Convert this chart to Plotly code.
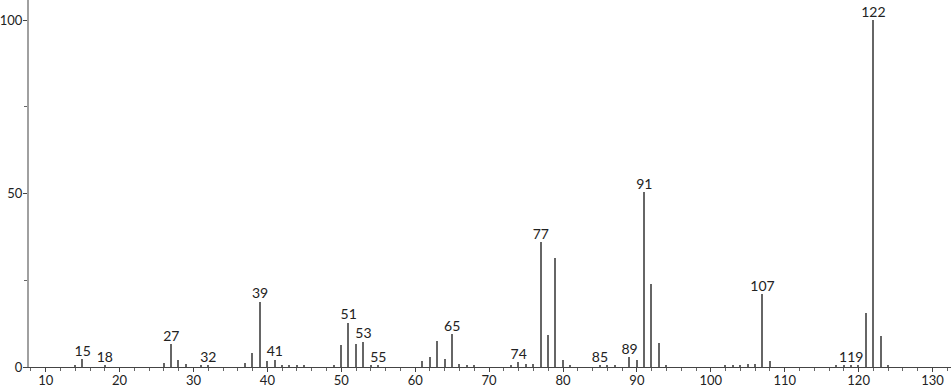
import plotly.graph_objects as go

mz = [14, 15, 18, 26, 27, 28, 29, 31, 32, 37, 38, 39, 40, 41, 42, 43, 44, 45, 49,
      50, 51, 52, 53, 54, 55, 61, 62, 63, 64, 65, 66, 67, 68, 73, 74, 75, 76,
      77, 78, 79, 80, 81, 85, 86, 87, 89, 90, 91, 92, 93, 94, 102, 103, 104,
      105, 106, 107, 108, 117, 118, 119, 120, 121, 122, 123, 124]
intensity = [0.6, 2.3, 0.5, 1.1, 6.5, 2.0, 0.9, 0.3, 0.4, 1.2, 4.0, 18.8, 1.7, 2.1, 0.4, 0.6, 0.3, 0.3, 0.4,
             6.3, 12.8, 6.6, 7.3, 0.5, 0.3, 1.6, 2.9, 7.5, 2.3, 9.5, 1.0, 0.3, 0.3, 0.3, 1.3, 0.8, 0.9,
             35.9, 9.2, 31.5, 2.1, 0.3, 0.4, 0.4, 0.3, 2.8, 2.0, 50.4, 23.8, 6.9, 0.4, 0.3, 0.4, 0.5,
             0.9, 0.9, 21.0, 1.8, 0.3, 0.3, 0.4, 0.3, 15.6, 100.0, 8.8, 0.4]
labeled_mz = [15, 18, 27, 32, 39, 41, 51, 53, 55, 65, 74, 77, 85, 89, 91, 107, 119, 122]

lookup = dict(zip(mz, intensity))
label_y = [lookup[m] for m in labeled_mz]

FONT = "Lato, DejaVu Sans, sans-serif"

fig = go.Figure()
fig.add_trace(go.Bar(x=mz, y=intensity, width=0.2,
                     marker=dict(color="#666666", line=dict(width=0)),
                     hoverinfo="x+y"))
fig.add_trace(go.Scatter(x=labeled_mz, y=label_y, mode="text",
                         text=[str(m) for m in labeled_mz],
                         textposition="top center",
                         textfont=dict(family=FONT, size=14, color="#222222"),
                         hoverinfo="skip"))

fig.update_layout(
    width=951, height=389,
    margin=dict(l=29, r=0, t=0, b=22),
    paper_bgcolor="white", plot_bgcolor="white",
    showlegend=False,
    font=dict(family=FONT, size=14, color="#222222"),
    bargap=0,
)
fig.update_xaxes(range=[7.74, 132.5], showgrid=False, zeroline=False, automargin=False,
                 showline=True, linecolor="#444444", linewidth=1,
                 tickmode="linear", tick0=10, dtick=10,
                 ticks="outside", ticklen=4, tickcolor="#444444",
                 ticklabelstandoff=-3,
                 minor=dict(ticks="outside", dtick=2, tick0=10, ticklen=3, tickcolor="#666666"),
                 tickfont=dict(size=13, color="#222222"))
fig.update_yaxes(range=[0, 105.8], showgrid=False, zeroline=False, automargin=False,
                 showline=True, linecolor="#a0a0a0", linewidth=2,
                 tickvals=[0, 50, 100], ticks="outside", ticklen=4, tickcolor="#444444",
                 ticklabelstandoff=-2,
                 minor=dict(ticks="outside", dtick=25, ticklen=3, tickcolor="#666666"),
                 tickfont=dict(size=13, color="#222222"))

fig.write_html("out.html")
